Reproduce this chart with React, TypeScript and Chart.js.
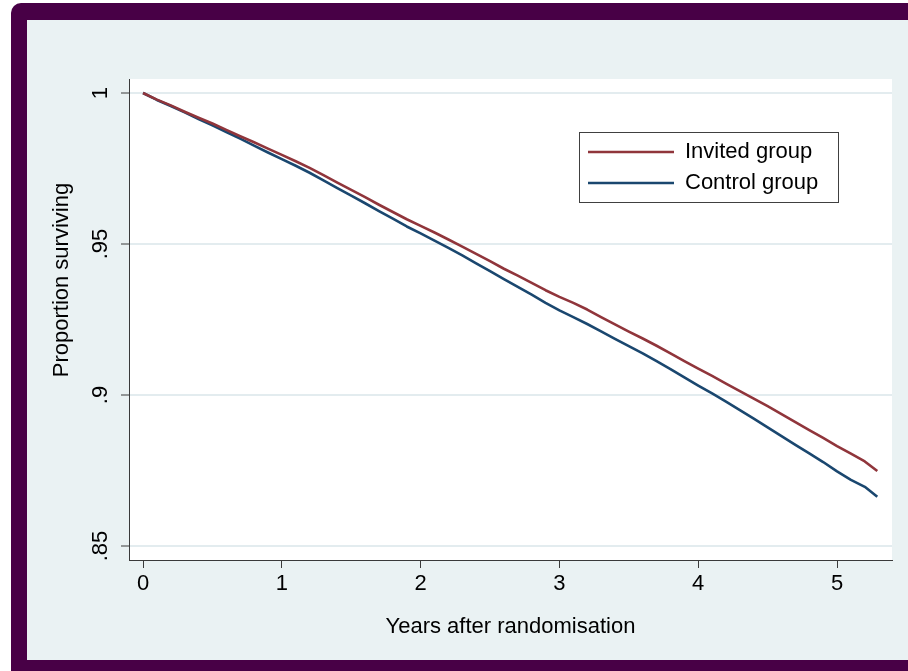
import React, { useEffect, useRef } from 'react';
import { Chart, registerables } from 'chart.js';

Chart.register(...registerables);

// ---- data ----
const years = [
  0, 0.1, 0.2, 0.3, 0.4, 0.5, 0.6, 0.7, 0.8, 0.9,
  1.0, 1.1, 1.2, 1.3, 1.4, 1.5, 1.6, 1.7, 1.8, 1.9,
  2.0, 2.1, 2.2, 2.3, 2.4, 2.5, 2.6, 2.7, 2.8, 2.9,
  3.0, 3.1, 3.2, 3.3, 3.4, 3.5, 3.6, 3.7, 3.8, 3.9,
  4.0, 4.1, 4.2, 4.3, 4.4, 4.5, 4.6, 4.7, 4.8, 4.9,
  5.0, 5.1, 5.2, 5.29,
];

const invitedGroup = [
  1.0, 0.9978, 0.9959, 0.9938, 0.9918, 0.9899, 0.9878, 0.9857, 0.9837, 0.9816,
  0.9795, 0.9774, 0.9752, 0.9728, 0.9703, 0.9679, 0.9655, 0.963, 0.9606, 0.9582,
  0.956, 0.9538, 0.9515, 0.9491, 0.9467, 0.9443, 0.9418, 0.9395, 0.9371, 0.9347,
  0.9325, 0.9305, 0.9283, 0.9258, 0.9234, 0.921, 0.9187, 0.9163, 0.9138, 0.9112,
  0.9087, 0.9063, 0.9038, 0.9013, 0.8988, 0.8963, 0.8937, 0.891, 0.8884, 0.8858,
  0.8831, 0.8806, 0.878, 0.8748,
];

const controlGroup = [
  1.0, 0.9977, 0.9957, 0.9936, 0.9914, 0.9893, 0.9871, 0.9849, 0.9826, 0.9803,
  0.9781, 0.9759, 0.9736, 0.9711, 0.9685, 0.966, 0.9635, 0.9609, 0.9584, 0.9558,
  0.9535, 0.9511, 0.9487, 0.9462, 0.9436, 0.941, 0.9384, 0.9358, 0.9332, 0.9305,
  0.928, 0.9258, 0.9235, 0.9211, 0.9186, 0.9162, 0.9138, 0.9112, 0.9086, 0.9058,
  0.9031, 0.9005, 0.8978, 0.895, 0.8922, 0.8893, 0.8864, 0.8835, 0.8807, 0.8778,
  0.8747, 0.8719, 0.8696, 0.8663,
];

const seriesLabels = ['Invited group', 'Control group'];
const seriesColors = ['#90353b', '#1a476f'];

const xTickValues = [0, 1, 2, 3, 4, 5];
const xTickLabels = ['0', '1', '2', '3', '4', '5'];
const yTickValues = [0.85, 0.9, 0.95, 1];
const yTickLabels = ['.85', '.9', '.95', '1'];

const xTitle = 'Years after randomisation';
const yTitle = 'Proportion surviving';

// ---- styling ----
const FONT_FAMILY = '"Liberation Sans", Arial, Helvetica, sans-serif';
const FONT = { family: FONT_FAMILY, size: 22 };
const AXIS_COLOR = '#3a3a3a';
const GRID_COLOR = '#e3ecef';

const framePlugin = {
  id: 'framePlugin',
  afterLayout(chart: any) {
    const lg = chart.legend;
    if (!lg) return;
    const ca = chart.chartArea;
    const W = 260;
    const H = 71;
    lg.left = ca.right - 53 - W;
    lg.top = ca.top + 53;
    lg.width = W;
    lg.height = H;
    lg.right = lg.left + W;
    lg.bottom = lg.top + H;
  },
  beforeDraw(chart: any) {
    const { ctx, chartArea: ca } = chart;
    ctx.save();
    ctx.fillStyle = '#ffffff';
    ctx.fillRect(ca.left, ca.top, ca.right - ca.left, ca.bottom - ca.top);
    const lg = chart.legend;
    if (lg) {
      ctx.fillStyle = '#ffffff';
      ctx.fillRect(lg.left, lg.top, lg.width, lg.height);
      ctx.strokeStyle = '#404040';
      ctx.lineWidth = 1;
      ctx.strokeRect(lg.left + 0.5, lg.top + 0.5, lg.width - 1, lg.height - 1);
    }
    ctx.restore();
  },
  afterDraw(chart: any) {
    // y-axis title, placed as in the reference (slightly above the plot centre)
    const { ctx, chartArea: ca } = chart;
    const cx = 62;
    const cy = ca.top + (ca.bottom - ca.top) * 0.418;
    ctx.save();
    ctx.translate(cx, cy);
    ctx.rotate(-Math.PI / 2);
    ctx.font = `22px ${FONT_FAMILY}`;
    ctx.fillStyle = '#000';
    ctx.textAlign = 'center';
    ctx.textBaseline = 'middle';
    ctx.fillText(yTitle, 0, 0);
    ctx.restore();
  },
};

export default function App() {
  const canvasRef = useRef<HTMLCanvasElement | null>(null);

  useEffect(() => {
    const canvas = canvasRef.current;
    if (!canvas) return;
    const makePoints = (vals: number[]) => years.map((x, i) => ({ x, y: vals[i] }));
    const chart = new Chart(canvas, {
      type: 'line',
      data: {
        datasets: [
          {
            label: seriesLabels[0],
            data: makePoints(invitedGroup),
            borderColor: seriesColors[0],
            backgroundColor: seriesColors[0],
            borderWidth: 2.6,
            pointRadius: 0,
            tension: 0,
            borderJoinStyle: 'round',
          },
          {
            label: seriesLabels[1],
            data: makePoints(controlGroup),
            borderColor: seriesColors[1],
            backgroundColor: seriesColors[1],
            borderWidth: 2.6,
            pointRadius: 0,
            tension: 0,
            borderJoinStyle: 'round',
          },
        ],
      },
      options: {
        responsive: false,
        animation: false,
        devicePixelRatio: 1,
        layout: { padding: { left: 0, top: 79, right: 16, bottom: 0 } },
        plugins: {
          legend: {
            display: true,
            position: 'chartArea',
            align: 'start',
            labels: {
              usePointStyle: true,
              pointStyle: 'line',
              pointStyleWidth: 86,
              padding: 9,
              color: '#000',
              font: FONT,
            },
          },
          tooltip: { enabled: false },
        },
        scales: {
          x: {
            type: 'linear',
            min: -0.101,
            max: 5.396,
            afterBuildTicks: (s: any) => {
              s.ticks = xTickValues.map((v) => ({ value: v }));
            },
            afterFit: (s: any) => {
              s.height = 111;
            },
            ticks: {
              callback: (_v: any, i: number) => xTickLabels[i],
              padding: 3,
              maxRotation: 0,
              minRotation: 0,
              color: '#000',
              font: FONT,
            },
            grid: {
              drawOnChartArea: false,
              drawTicks: true,
              tickLength: 8,
              tickColor: AXIS_COLOR,
              tickWidth: 1,
            },
            border: { display: true, color: AXIS_COLOR, width: 1 },
            title: {
              display: true,
              text: xTitle,
              color: '#000',
              font: FONT,
              padding: { top: 0, bottom: 31 },
            },
          },
          y: {
            type: 'linear',
            min: 0.84536,
            max: 1.00464,
            afterBuildTicks: (s: any) => {
              s.ticks = yTickValues.map((v) => ({ value: v }));
            },
            afterFit: (s: any) => {
              s.width = 129;
            },
            ticks: {
              callback: (_v: any, i: number) => yTickLabels[i],
              minRotation: 90,
              maxRotation: 90,
              crossAlign: 'center',
              padding: 5,
              color: '#000',
              font: FONT,
            },
            grid: {
              color: GRID_COLOR,
              lineWidth: 2,
              drawTicks: true,
              tickLength: 8,
              tickColor: AXIS_COLOR,
              tickWidth: 1,
            },
            border: { display: true, color: AXIS_COLOR, width: 1 },
            title: { display: false, text: yTitle },
          },
        },
      } as any,
      plugins: [framePlugin],
    });
    return () => chart.destroy();
  }, []);

  return (
    <div
      style={{
        position: 'absolute',
        left: 0,
        top: 0,
        width: 908,
        height: 671,
        overflow: 'hidden',
        background: '#ffffff',
      }}
    >
      <div
        style={{
          position: 'absolute',
          left: 11,
          top: 3,
          width: 930,
          height: 700,
          background: '#480046',
          borderTopLeftRadius: 10,
        }}
      />
      <div
        style={{
          position: 'absolute',
          left: 27,
          top: 20,
          width: 900,
          height: 640,
          background: '#eaf2f3',
        }}
      />
      <canvas
        ref={canvasRef}
        width={908}
        height={671}
        style={{ position: 'absolute', left: 0, top: 0, width: 908, height: 671 }}
      />
    </div>
  );
}
